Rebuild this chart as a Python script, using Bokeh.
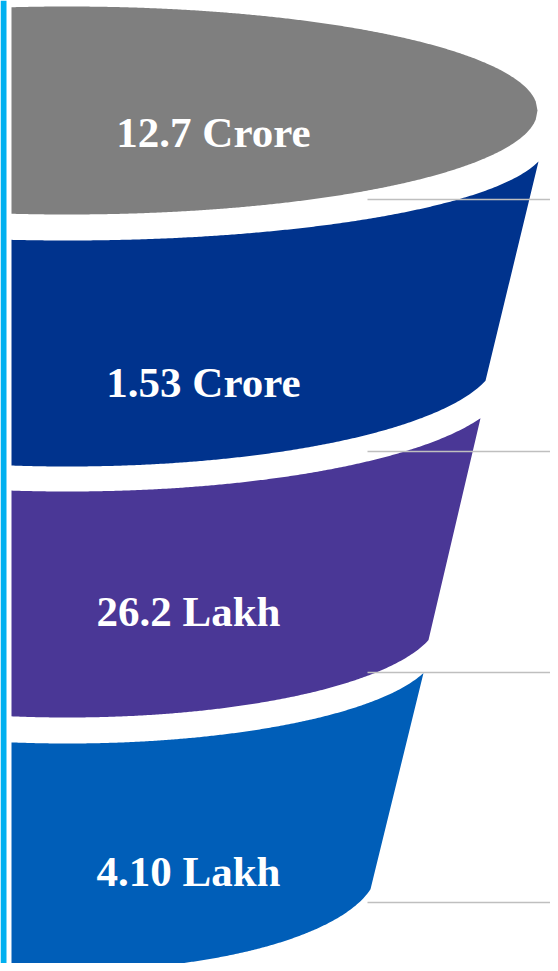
import numpy as np
from bokeh.plotting import figure
from bokeh.models import Range1d, ColumnDataSource
from bokeh.core.properties import value
from bokeh.embed import file_html
from bokeh.resources import INLINE

# ---- data ----
stages = ["12.7 Crore", "1.53 Crore", "26.2 Lakh", "4.10 Lakh"]
stage_colors = ["#7F7F7F", "#00338D", "#4A3796", "#005EB8"]

# ---- layout (reference pixel coordinates, y downwards) ----
CX = 67.0          # common centre of all ellipse rings
LEFT = 11.0        # left clip of the funnel
TOP_RING = dict(cy=110.0, a=470.0, b=104.0)
SEGMENTS = [
    # (top ring cy, a, b, top corner x), (bottom ring cy, a, b, bottom corner x)
    ((142.0, 480.0, 98.0, 538.0), (354.0, 430.0, 112.0, 485.0)),
    ((379.0, 440.0, 112.0, 480.0), (615.0, 372.0, 102.0, 428.0)),
    ((646.0, 370.0, 97.0, 423.0), (867.0, 310.0, 103.0, 370.0)),
]
LABEL_X = [213, 203, 188, 188]
LABEL_Y = [132, 382, 611, 871]
RULE_Y = [199, 451, 672, 902]


def lower_arc(cy, a, b, x0, x1, n=240):
    xs = np.linspace(x0, x1, n)
    u = (xs - CX) / a
    ys = cy + b * np.sqrt(np.clip(1 - u ** 2, 0, None))
    return xs, ys


p = figure(width=550, height=963, output_backend="svg", toolbar_location=None,
           x_range=Range1d(0, 550), y_range=Range1d(963, 0),
           min_border=0, min_border_left=0, min_border_right=0,
           min_border_top=0, min_border_bottom=0)
p.axis.visible = False
p.grid.visible = False
p.outline_line_color = None
p.background_fill_color = "white"
p.border_fill_color = "white"

# accent bar on the left
p.quad(left=0, right=6, top=0, bottom=971, fill_color="#00B0F0", line_color=None)

# top ellipse (gray)
xs = np.linspace(LEFT, CX + TOP_RING["a"], 300)
u = (xs - CX) / TOP_RING["a"]
s = np.sqrt(np.clip(1 - u ** 2, 0, None))
top_y = TOP_RING["cy"] - TOP_RING["b"] * s
bot_y = TOP_RING["cy"] + TOP_RING["b"] * s
gx = np.concatenate([xs, xs[::-1]])
gy = np.concatenate([top_y, bot_y[::-1]])
p.patch(gx, gy, fill_color=stage_colors[0], line_color=None)

# funnel segments
for (top, bot), col in zip(SEGMENTS, stage_colors[1:]):
    tcy, ta, tb, tx = top
    bcy, ba, bb, bx = bot
    x1, y1 = lower_arc(tcy, ta, tb, LEFT, tx)
    x2, y2 = lower_arc(bcy, ba, bb, bx, LEFT)
    px = np.concatenate([x1, x2])
    py = np.concatenate([y1, y2])
    p.patch(px, py, fill_color=col, line_color=None)

# thin rules on the right
p.segment(x0=[367] * 4, y0=RULE_Y, x1=[558] * 4, y1=RULE_Y,
          line_color="#BFBFBF", line_width=1.5)

# labels
src = ColumnDataSource(dict(x=LABEL_X, y=LABEL_Y, text=stages))
p.text(x="x", y="y", text="text", source=src,
       text_font=value("Liberation Serif"), text_font_style="bold",
       text_font_size="43px", text_color="white",
       text_align="center", text_baseline="alphabetic")

open("out.html", "w").write(file_html(p, INLINE))
